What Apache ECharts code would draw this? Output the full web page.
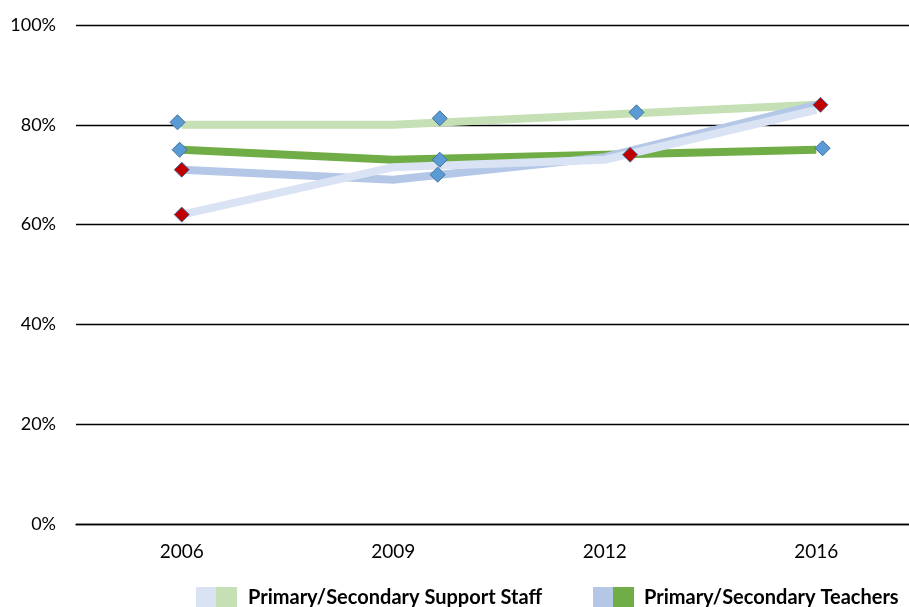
<!DOCTYPE html>
<html>
<head>
<meta charset="utf-8">
<script src="https://cdn.jsdelivr.net/npm/echarts@6/dist/echarts.min.js"></script>
<style>
html,body{margin:0;padding:0;background:#fff;}
#chart{width:909px;height:607px;}
</style>
</head>
<body>
<div id="chart"></div>
<script>
// Categories and tick labels
var years = ['2006', '2009', '2012', '2016'];
var yTicks = [0, 20, 40, 60, 80, 100];

// Line series values (%)
var primarySupport = [62, 71.5, 73, 83];
var primaryTeachers = [71, 69, 73.5, 84];
var secondarySupport = [80, 80, 82, 84];
var secondaryTeachers = [75, 73, 74, 75];

// Diamond markers: [category position, value %]
var blueMarkers = [[-0.02, 80.5], [-0.01, 75], [1.22, 81.3], [1.22, 73], [1.21, 70], [2.15, 82.5], [3.03, 75.3]];
var redMarkers = [[0, 71], [0, 62], [2.12, 74], [3.02, 84]];

// Legend labels
var legendLabels = ['Primary/Secondary Support Staff', 'Primary/Secondary Teachers'];

var FONT = 'Lato, "Liberation Sans", sans-serif';
var C_PS = '#DAE3F3', C_PT = '#B4C7E7', C_SS = '#C5E0B4', C_ST = '#70AD47';

var chart = echarts.init(document.getElementById('chart'));

function lineSeries(name, data, color) {
  return {
    name: name, type: 'line', data: data, xAxisIndex: 0, yAxisIndex: 0,
    showSymbol: false, symbol: 'none',
    lineStyle: { color: color, width: 8, cap: 'butt', join: 'miter' },
    itemStyle: { color: color },
    z: 2
  };
}

var option = {
  animation: false,
  backgroundColor: '#ffffff',
  grid: { left: 76, top: 25, width: 846, bottom: 83, containLabel: false, outerBoundsMode: 'none' },
  xAxis: [
    {
      type: 'category', data: years, boundaryGap: true,
      axisLine: { show: true, lineStyle: { color: '#000', width: 1.3 } },
      axisTick: { show: false },
      axisLabel: { fontFamily: FONT, fontSize: 19, color: '#000', margin: 18 },
      splitLine: { show: false }
    },
    {
      type: 'value', min: -0.5, max: 3.5, show: false,
      axisLine: { show: false }, splitLine: { show: false }
    }
  ],
  yAxis: {
    type: 'value', min: yTicks[0], max: yTicks[yTicks.length - 1], interval: 20,
    axisLine: { show: false }, axisTick: { show: false },
    axisLabel: { formatter: '{value}%', fontFamily: FONT, fontSize: 18, color: '#000', margin: 20 },
    splitLine: { show: true, lineStyle: { color: '#000', width: 1.3 } }
  },
  series: [
    lineSeries('Secondary Support Staff', secondarySupport, C_SS),
    lineSeries('Secondary Teachers', secondaryTeachers, C_ST),
    lineSeries('Primary Teachers', primaryTeachers, C_PT),
    lineSeries('Primary Support Staff', primarySupport, C_PS),
    {
      name: 'blue markers', type: 'scatter', xAxisIndex: 1, yAxisIndex: 0,
      data: blueMarkers, symbol: 'diamond', symbolSize: 15,
      itemStyle: { color: '#5B9BD5', borderColor: '#41719C', borderWidth: 1, opacity: 1 },
      z: 5
    },
    {
      name: 'red markers', type: 'scatter', xAxisIndex: 1, yAxisIndex: 0,
      data: redMarkers, symbol: 'diamond', symbolSize: 15,
      itemStyle: { color: '#C00000', borderColor: '#41719C', borderWidth: 1, opacity: 1 },
      z: 5
    }
  ],
  graphic: [
    { type: 'rect', left: 196, top: 587, shape: { width: 20, height: 22 }, style: { fill: C_PS } },
    { type: 'rect', left: 216, top: 587, shape: { width: 21, height: 22 }, style: { fill: C_SS } },
    { type: 'text', left: 248, top: 588, style: { text: legendLabels[0], font: 'bold 20px ' + FONT, fill: '#000' } },
    { type: 'rect', left: 593, top: 587, shape: { width: 20, height: 22 }, style: { fill: C_PT } },
    { type: 'rect', left: 613, top: 587, shape: { width: 21, height: 22 }, style: { fill: C_ST } },
    { type: 'text', left: 644, top: 588, style: { text: legendLabels[1], font: 'bold 20px ' + FONT, fill: '#000' } }
  ]
};
chart.setOption(option);
</script>
</body>
</html>
